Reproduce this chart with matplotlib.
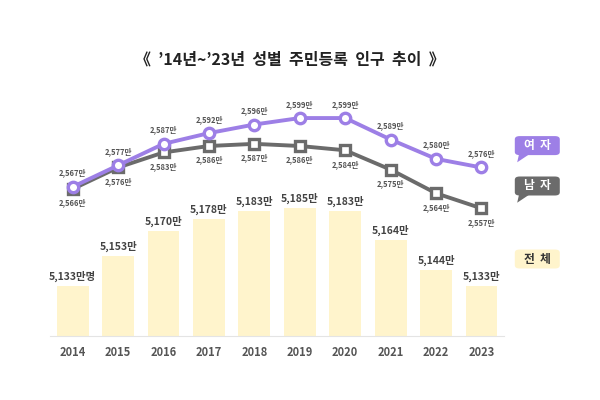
import matplotlib
matplotlib.use("Agg")
import matplotlib.pyplot as plt
from matplotlib.patches import Polygon, FancyBboxPatch

plt.rcParams['font.family'] = ['Noto Sans CJK KR', 'DejaVu Sans']

# data
years = ["2014", "2015", "2016", "2017", "2018", "2019", "2020", "2021", "2022", "2023"]
total = [5133, 5153, 5170, 5178, 5183, 5185, 5183, 5164, 5144, 5133]
female = [2567, 2577, 2587, 2592, 2596, 2599, 2599, 2589, 2580, 2576]
male = [2566, 2576, 2583, 2586, 2587, 2586, 2584, 2575, 2564, 2557]

purple = "#9d7fe6"
gray = "#6b6b6b"
bar_color = "#fff4cc"
label_color = "#555555"

x = list(range(len(years)))

fig = plt.figure(figsize=(6, 4), dpi=100)
ax = fig.add_axes([0.0833, 0.16, 0.757, 0.59])

# bars (total)
ax.bar(x, total, width=0.7, color=bar_color, zorder=1)
ax.set_ylim(5100, 5257)
ax.set_xlim(-0.5, 9.5)
for i, v in enumerate(total):
    txt = f"{v:,}만명" if i == 0 else f"{v:,}만"
    ax.annotate(txt, (i, v), xytext=(0, 3), textcoords="offset points",
                ha="center", va="bottom", fontsize=7.5, fontweight="bold",
                color="#444444")

ax.set_xticks(x)
ax.set_xticklabels(years, fontsize=8, fontweight="bold", color=label_color)
ax.tick_params(axis="x", length=0, pad=7)
ax.set_yticks([])
for s in ["top", "right", "left"]:
    ax.spines[s].set_visible(False)
ax.spines["bottom"].set_color("#e4e4e4")

# lines (female / male)
ax2 = ax.twinx()
ax2.set_ylim(2497.6, 2607.4)
ax2.axis("off")
ax2.plot(x, male, color=gray, lw=2.8, marker="s", markersize=7,
         markerfacecolor="white", markeredgecolor=gray, markeredgewidth=2.4, zorder=3)
ax2.plot(x, female, color=purple, lw=2.8, marker="o", markersize=7.5,
         markerfacecolor="white", markeredgecolor=purple, markeredgewidth=2.4, zorder=4)

for i in x:
    ax2.annotate(f"{female[i]:,}만", (i, female[i]), xytext=(0, 10), textcoords="offset points",
                 ha="center", va="center", fontsize=5.5, fontweight="bold", color=label_color)
    ax2.annotate(f"{male[i]:,}만", (i, male[i]), xytext=(0, -10), textcoords="offset points",
                 ha="center", va="center", fontsize=5.5, fontweight="bold", color=label_color)

# title
fig.text(0.483, 0.85, "《  ’14년~’23년  성별  주민등록  인구  추이  》", ha="center", va="center",
         fontsize=11.5, fontweight="bold", color="#222222")

# legend badges
def badge(yc, text, face, fg, tail=True):
    x0, w, h = 0.858, 0.075, 0.0475
    box = FancyBboxPatch((x0, yc - h / 2), w, h, boxstyle="round,pad=0,rounding_size=0.008",
                         transform=fig.transFigure, fc=face, ec="none")
    fig.patches.append(box)
    fig.text(x0 + w / 2, yc, text, ha="center", va="center", fontsize=8.5,
             fontweight="bold", color=fg)
    if tail:
        yb = yc - h / 2
        pts = [(x0 + 0.007, yb + 0.002), (x0 + 0.024, yb + 0.002), (x0 + 0.004, yb - 0.018)]
        fig.patches.append(Polygon(pts, closed=True, transform=fig.transFigure,
                                   fc=face, ec="none"))

badge(0.636, "여  자", purple, "white")
badge(0.535, "남  자", gray, "white")
badge(0.3525, "전  체", bar_color, "#333333", tail=False)

fig.savefig("out.png", dpi=100, facecolor="white")
